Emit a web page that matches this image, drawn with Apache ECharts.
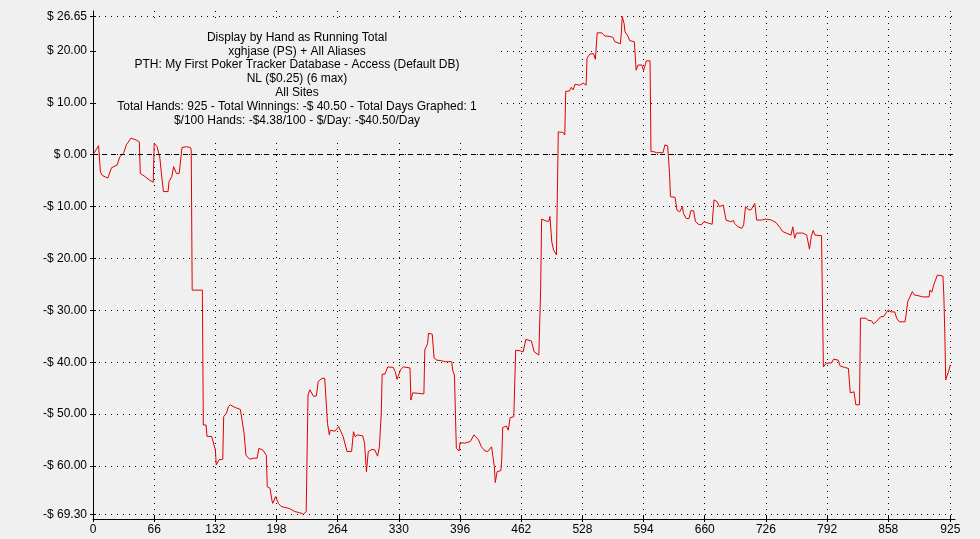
<!DOCTYPE html>
<html>
<head>
<meta charset="utf-8">
<script src="https://cdn.jsdelivr.net/npm/echarts@6/dist/echarts.min.js"></script>
<style>
  html, body { margin: 0; padding: 0; background: #f0f0f0; }
  #chart { width: 980px; height: 539px; }
</style>
</head>
<body>
<div id="chart"></div>
<script>
// ---- Data ----
const titleLines = [
  'Display by Hand as Running Total',
  'xghjase (PS) + All Aliases',
  'PTH: My First Poker Tracker Database - Access (Default DB)',
  'NL ($0.25) (6 max)',
  'All Sites',
  'Total Hands: 925 - Total Winnings: -$ 40.50 - Total Days Graphed: 1',
  '$/100 Hands: -$4.38/100 - $/Day: -$40.50/Day'
];

const xTicks = [0, 66, 132, 198, 264, 330, 396, 462, 528, 594, 660, 726, 792, 858, 925];
const yTicks = [26.65, 20, 10, 0, -10, -20, -30, -40, -50, -60, -69.30];

const hands = [
  0, 6, 8, 10, 16, 20, 26, 29, 33, 36, 41, 47, 50, 51, 56, 61, 65, 66, 69, 72,
  74, 76, 81, 82, 85, 87, 90, 93, 96, 101, 105, 106, 107, 118, 119, 122, 123, 128, 129, 132,
  133, 134, 136, 140, 141, 144, 146, 148, 153, 159, 161, 163, 165, 169, 173, 177, 179, 183, 185, 187,
  188, 191, 193, 194, 197, 199, 200, 203, 207, 212, 218, 223, 227, 230, 231, 232, 234, 238, 241, 243,
  247, 250, 253, 255, 256, 261, 265, 270, 274, 279, 281, 283, 285, 291, 293, 295, 297, 301, 304, 307,
  309, 310, 311, 312, 315, 318, 324, 326, 328, 330, 332, 335, 342, 343, 345, 351, 357, 358, 361, 362,
  366, 368, 371, 376, 380, 387, 388, 390, 391, 392, 395, 396, 401, 407, 408, 411, 414, 416, 419, 423,
  426, 430, 432, 433, 434, 436, 440, 441, 442, 446, 448, 450, 454, 455, 456, 461, 464, 467, 473, 475,
  476, 481, 483, 484, 489, 492, 493, 495, 497, 500, 501, 502, 507, 509, 510, 514, 516, 518, 520, 525,
  529, 532, 533, 536, 540, 542, 544, 549, 552, 558, 561, 563, 565, 569, 570, 571, 573, 574, 577, 579,
  584, 586, 588, 592, 594, 597, 601, 602, 605, 608, 615, 617, 620, 622, 623, 628, 630, 633, 636, 637,
  640, 643, 645, 648, 650, 654, 657, 659, 664, 668, 670, 673, 676, 680, 682, 683, 688, 691, 692, 696,
  700, 702, 704, 707, 710, 714, 716, 721, 726, 732, 737, 741, 744, 748, 753, 755, 757, 759, 766, 770,
  773, 775, 777, 779, 786, 787, 788, 789, 791, 797, 799, 804, 806, 811, 815, 817, 821, 823, 827, 828,
  829, 834, 836, 840, 842, 845, 847, 850, 853, 856, 858, 861, 865, 867, 870, 876, 877, 879, 884, 886,
  891, 895, 902, 903, 905, 907, 909, 911, 917, 918, 919, 920, 922, 923, 925
];

const winnings = [
  0, 1.75, -3.3, -4.0, -4.5, -2.5, -2.0, -0.4, 0.3, 1.9, 3.2, 2.8, 2.5, -3.6, -4.2, -4.9, -5.3, 2.2, 1.6, -0.4,
  -3.9, -7.1, -7.1, -5.2, -4.2, -2.3, -3.6, -3.6, 1.4, 1.55, 1.4, 0.9, -26.1, -26.1, -52.1, -52.1, -54.3, -54.3, -54.6, -56.9,
  -59.8, -60.1, -58.8, -58.7, -50.5, -49.8, -48.6, -48.2, -48.7, -49.1, -49.2, -53.7, -57.9, -58.7, -58.5, -58.5, -56.6, -56.9, -57.2, -57.9,
  -64.0, -64.3, -66.6, -67.2, -65.9, -66.2, -67.2, -67.8, -68.0, -68.2, -68.8, -69.0, -69.30, -68.8, -68.8, -46.3, -45.3, -46.6, -46.5, -43.7,
  -43.1, -43.1, -51.8, -54.0, -53.1, -53.3, -52.4, -54.4, -57.2, -57.2, -53.4, -54.4, -54.0, -54.2, -55.6, -61.1, -57.2, -56.8, -56.9, -58.1,
  -56.3, -56.5, -49.8, -42.3, -42.3, -40.9, -41.0, -41.8, -43.3, -43.3, -41.4, -40.9, -41.1, -47.3, -45.9, -46.0, -46.1, -37.6, -36.4, -34.4,
  -34.6, -39.2, -39.6, -39.7, -39.9, -39.9, -41.5, -42.5, -49.8, -56.6, -57.1, -55.5, -55.6, -55.3, -55.0, -54.0, -54.6, -55.0, -56.3, -57.1,
  -57.2, -56.3, -56.3, -60.1, -63.2, -61.1, -60.9, -58.7, -52.6, -52.3, -53.1, -50.7, -50.5, -50.5, -37.7, -37.8, -38.0, -35.6, -35.9, -36.0,
  -38.0, -38.6, -25.7, -12.4, -12.8, -12.8, -11.9, -16.8, -18.4, -19.3, -7.4, 4.4, 4.3, 3.8, 12.2, 12.3, 13.0, 12.5, 13.6, 13.4,
  13.8, 13.4, 18.6, 19.4, 19.5, 18.4, 23.5, 23.5, 22.9, 22.8, 22.6, 21.8, 22.0, 21.4, 23.4, 26.65, 25.3, 23.7, 22.9, 22.0,
  21.8, 16.3, 17.3, 17.3, 16.2, 18.1, 18.1, 0.6, 0.6, 0.4, 0.4, 1.9, 1.7, -3.6, -8.1, -8.2, -10.7, -11.0, -10.0, -11.3,
  -12.3, -12.3, -10.8, -10.8, -12.9, -13.5, -13.4, -12.9, -13.2, -13.4, -8.7, -9.0, -10.0, -9.7, -10.0, -12.6, -12.9, -12.7, -13.2, -13.9,
  -14.2, -13.5, -10.0, -10.6, -10.6, -9.4, -12.6, -12.6, -12.4, -12.6, -13.1, -14.0, -14.8, -15.1, -15.5, -13.9, -16.1, -15.1, -15.1, -15.5,
  -18.2, -15.7, -14.6, -15.5, -15.6, -28.6, -40.9, -41.2, -40.2, -40.1, -39.4, -39.6, -40.7, -41.0, -41.2, -45.9, -45.7, -48.2, -48.2, -31.5,
  -31.3, -31.5, -31.9, -32.0, -32.6, -32.2, -32.2, -31.2, -31.2, -30.4, -29.9, -30.3, -30.3, -31.5, -32.2, -32.2, -31.2, -28.3, -26.4, -27.0,
  -27.2, -27.4, -27.4, -26.1, -26.5, -25.1, -25.4, -23.2, -23.4, -27.4, -34.4, -43.4, -43.4, -41.8, -40.5
];

// ---- Chart ----
const FONT = 'Arial, "Liberation Sans", sans-serif';
const seriesData = hands.map((h, i) => [h, winnings[i]]);

function moneyLabel(v) {
  const r = Math.round(v * 100) / 100;
  if (r < 0) return '-$ ' + (-r).toFixed(2);
  return '$ ' + r.toFixed(2);
}

const chart = echarts.init(document.getElementById('chart'), null, { renderer: 'canvas' });

const X_MIN = 0, X_MAX = 930;
const Y_MIN = -70.22, Y_MAX = 27.71;

chart.setOption({
  animation: false,
  backgroundColor: '#f0f0f0',
  grid: {
    left: 93, right: 25, top: 11, bottom: 20,
    containLabel: false,
    outerBoundsMode: 'none'
  },
  graphic: {
    elements: [
      {
        type: 'rect',
        z: 1,
        silent: true,
        shape: { x: 94, y: 22, width: 407, height: 117 },
        style: { fill: '#f0f0f0' }
      },
      {
        type: 'text',
        z: 3,
        silent: true,
        x: 297,
        y: 30.5,
        style: {
          text: titleLines.join('\n'),
          align: 'center',
          verticalAlign: 'top',
          font: '12px ' + FONT,
          lineHeight: 13.8,
          fill: '#000'
        }
      }
    ]
  },
  xAxis: [
    {
      type: 'value',
      min: X_MIN, max: X_MAX,
      position: 'bottom',
      axisLine: { show: true, onZero: false, lineStyle: { color: '#000', width: 1 } },
      axisTick: { show: true, length: 3, customValues: xTicks, lineStyle: { color: '#000' } },
      axisLabel: {
        show: true, customValues: xTicks, margin: 5,
        color: '#000', fontSize: 12, fontFamily: FONT,
        showMinLabel: true, showMaxLabel: true, hideOverlap: false,
        formatter: v => String(v)
      },
      splitLine: {
        show: true, customValues: xTicks,
        lineStyle: { color: '#000', width: 1, type: [1, 5] }
      }
    },
    {
      type: 'value',
      min: X_MIN, max: X_MAX,
      position: 'bottom',
      z: 4,
      axisLine: { show: false, onZero: false },
      axisTick: { show: true, inside: true, length: 3, customValues: xTicks, lineStyle: { color: '#000' } },
      axisLabel: { show: false },
      splitLine: { show: false }
    }
  ],
  yAxis: [
    {
      type: 'value',
      min: Y_MIN, max: Y_MAX,
      position: 'left',
      axisLine: { show: true, onZero: false, lineStyle: { color: '#000', width: 1 } },
      axisTick: { show: true, length: 3, customValues: yTicks, lineStyle: { color: '#000' } },
      axisLabel: {
        show: true, customValues: yTicks, margin: 6,
        color: '#000', fontSize: 12, fontFamily: FONT,
        showMinLabel: true, showMaxLabel: true, hideOverlap: false,
        formatter: moneyLabel
      },
      splitLine: {
        show: true, customValues: yTicks,
        lineStyle: { color: '#000', width: 1, type: [1, 5] }
      }
    },
    {
      type: 'value',
      min: Y_MIN, max: Y_MAX,
      position: 'left',
      z: 4,
      axisLine: { show: false, onZero: false },
      axisTick: { show: true, inside: true, length: 3, customValues: yTicks, lineStyle: { color: '#000' } },
      axisLabel: { show: false },
      splitLine: { show: false }
    }
  ],
  series: [
    {
      type: 'line',
      xAxisIndex: 0,
      yAxisIndex: 0,
      data: seriesData,
      showSymbol: false,
      symbol: 'none',
      z: 2,
      lineStyle: { color: '#e00000', width: 1 },
      itemStyle: { color: '#e00000' },
      emphasis: { disabled: true },
      markLine: {
        silent: true,
        symbol: ['none', 'none'],
        label: { show: false },
        lineStyle: { color: '#000', width: 1, type: [5, 4] },
        emphasis: { disabled: true },
        data: [{ yAxis: 0 }]
      }
    }
  ]
});
</script>
</body>
</html>
